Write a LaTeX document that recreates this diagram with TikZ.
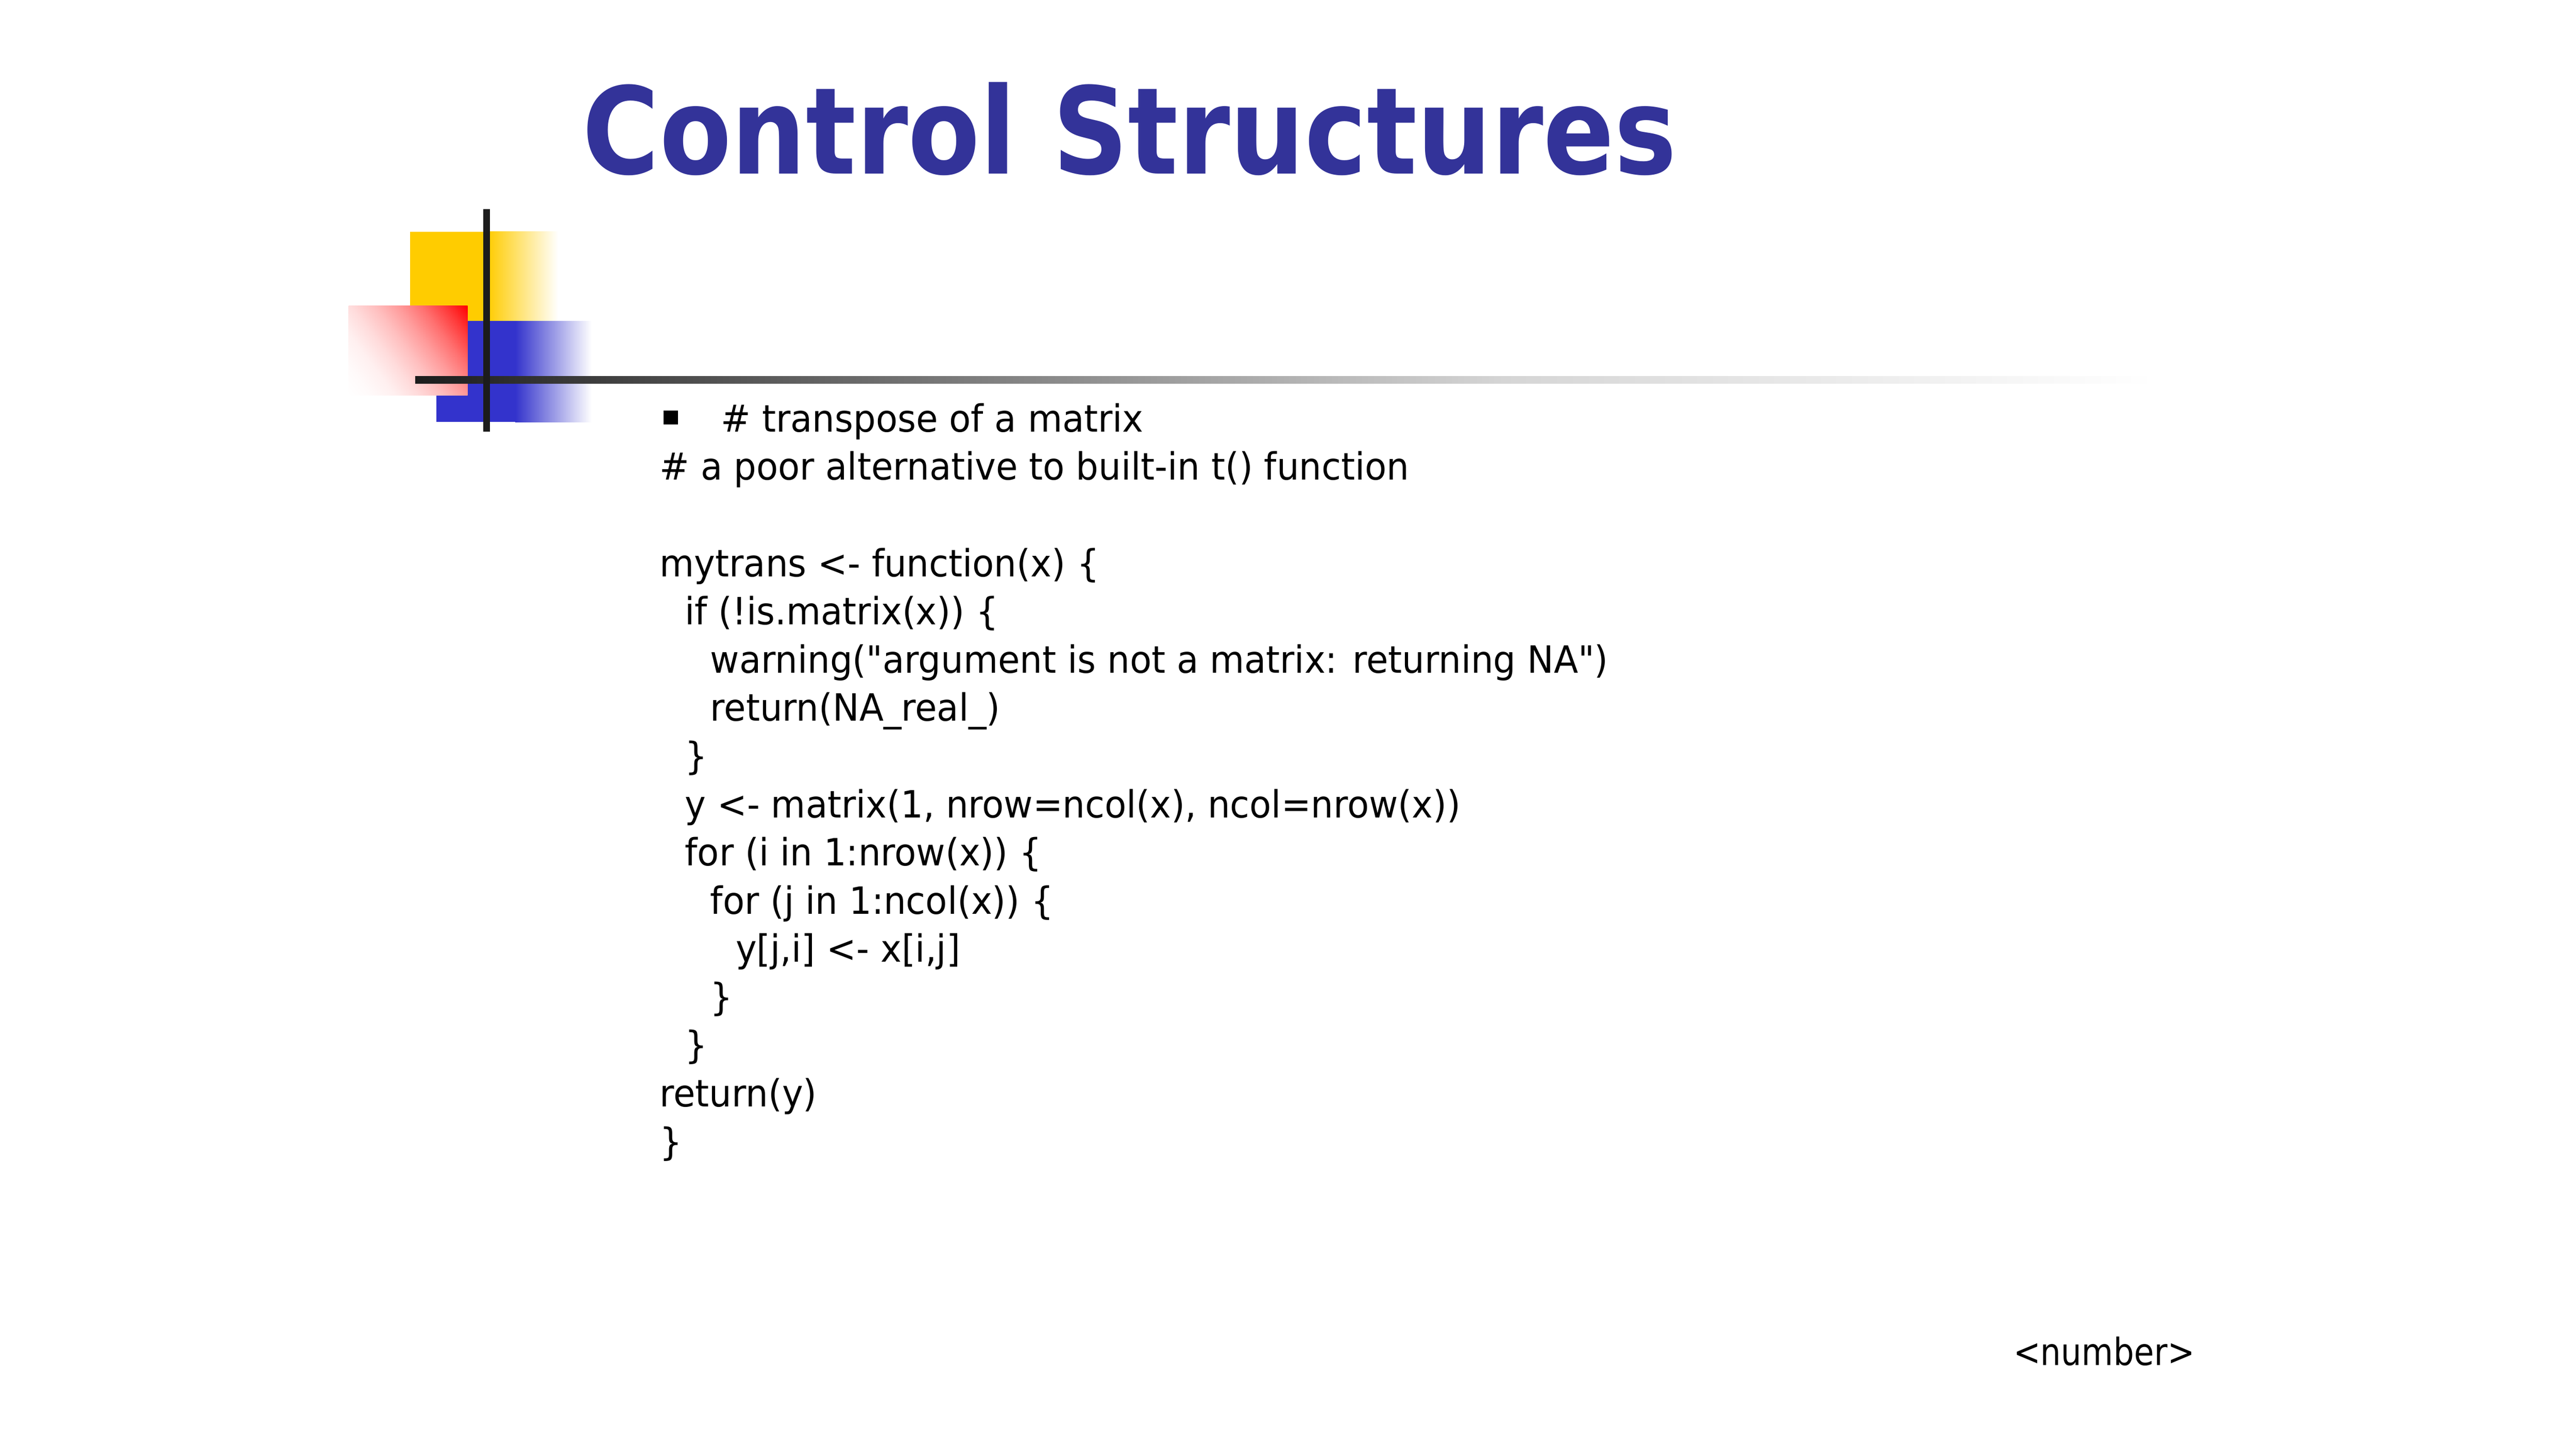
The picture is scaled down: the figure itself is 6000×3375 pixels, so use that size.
\documentclass[tikz,border=0pt]{standalone}
\usepackage{fontspec}
\setmainfont{DejaVu Sans}[FakeStretch=0.945, Ligatures=TeXOff]
\newfontfamily\footfont{DejaVu Sans}[FakeStretch=0.865, Ligatures=TeXOff]
\newfontfamily\titlefont{DejaVu Sans}[FakeStretch=0.87]
\definecolor{titleblue}{HTML}{333399}
\definecolor{logoyellow}{HTML}{FFCC00}
\definecolor{logoblue}{HTML}{3333CC}
\definecolor{logored}{HTML}{FF0000}
\definecolor{bardark}{HTML}{1C1C1C}
\definecolor{barmid}{RGB}{69,69,69}
\definecolor{barlight}{RGB}{213,213,213}
\pgfdeclarehorizontalshading{redfade}{100bp}{color(0bp)=(white); color(25bp)=(white); color(31bp)=(logored!2); color(37.5bp)=(logored!6); color(43.75bp)=(logored!14); color(50bp)=(logored!25); color(56.25bp)=(logored!39); color(62.5bp)=(logored!56); color(68.75bp)=(logored!77); color(75bp)=(logored); color(100bp)=(logored)}
\tikzset{
  codeline/.style={anchor=base west, inner sep=0pt, text=black, font=\fontsize{10.5}{12.6}\selectfont},
  footline/.style={anchor=base west, inner sep=0pt, text=black, font=\footfont\fontsize{10.5}{12.6}\selectfont},
  titletext/.style={anchor=base west, inner sep=0pt, text=titleblue, font=\titlefont\bfseries\fontsize{33.7}{40}\selectfont},
  bulletsq/.style={fill=black, inner sep=0pt, minimum width=4.08pt, minimum height=3.96pt},
}
\begin{document}
\begin{tikzpicture}[x=0.12pt,y=-0.12pt]
\useasboundingbox[fill=white] (0,0) rectangle (6000,3375);
% logo: yellow square
\fill[logoyellow] (955,540) rectangle (1136,748);
\shade[left color=logoyellow, right color=white] (1135,540) rectangle (1300,748);
% blue square
\fill[logoblue] (1016,748) rectangle (1201,983);
\shade[left color=logoblue, right color=white] (1200,748) rectangle (1378,983);
% red square: diagonal fade, white at lower left to red at upper right
\begin{scope}
  \clip (812,712) rectangle (1089,921);
  \begin{scope}[transform canvas={rotate around={37:(950.5,816.5)}}]
    \shade[shading=redfade] (777,516.5) rectangle (1124,1116.5);
  \end{scope}
\end{scope}
% horizontal bar
\shade[left color=bardark, right color=barmid] (967,876) rectangle (1481,893);
\shade[left color=barmid, right color=barlight] (1480,876) rectangle (3501,893);
\shade[left color=barlight, right color=white] (3500,876) rectangle (5018,893);
% vertical bar
\fill[bardark] (1125,487) rectangle (1141,1006);
% title
\node[titletext] (title) at (1355,405) {Control Structures};
% bullet
\node[bulletsq] (bullet) at (1562,972.5) {};
% code lines
\node[codeline] (l0) at (1678,1006.0) {\# transpose of a matrix};
\node[codeline] (l1) at (1535,1118.3) {\# a poor alternative to built-in t() function};
\node[codeline] (l3) at (1535,1342.9) {mytrans <- function(x) \{};
\node[codeline] (l4) at (1594,1455.2) {if (!is.matrix(x)) \{};
\node[codeline] (l5) at (1653,1567.5) {warning("argument is not a matrix: returning NA")};
\node[codeline] (l6) at (1653,1679.8) {return(NA\_real\_)};
\node[codeline] (l7) at (1594,1792.1) {\}};
\node[codeline] (l8) at (1594,1904.4) {y <- matrix(1, nrow=ncol(x), ncol=nrow(x))};
\node[codeline] (l9) at (1594,2016.7) {for (i in 1:nrow(x)) \{};
\node[codeline] (l10) at (1653,2129.0) {for (j in 1:ncol(x)) \{};
\node[codeline] (l11) at (1712,2241.3) {y[j,i] <- x[i,j]};
\node[codeline] (l12) at (1653,2353.6) {\}};
\node[codeline] (l13) at (1594,2465.9) {\}};
\node[codeline] (l14) at (1535,2578.2) {return(y)};
\node[codeline] (l15) at (1535,2690.5) {\}};
% footer
\node[footline] (footer) at (4688,3181) {<number>};
\end{tikzpicture}
\end{document}
